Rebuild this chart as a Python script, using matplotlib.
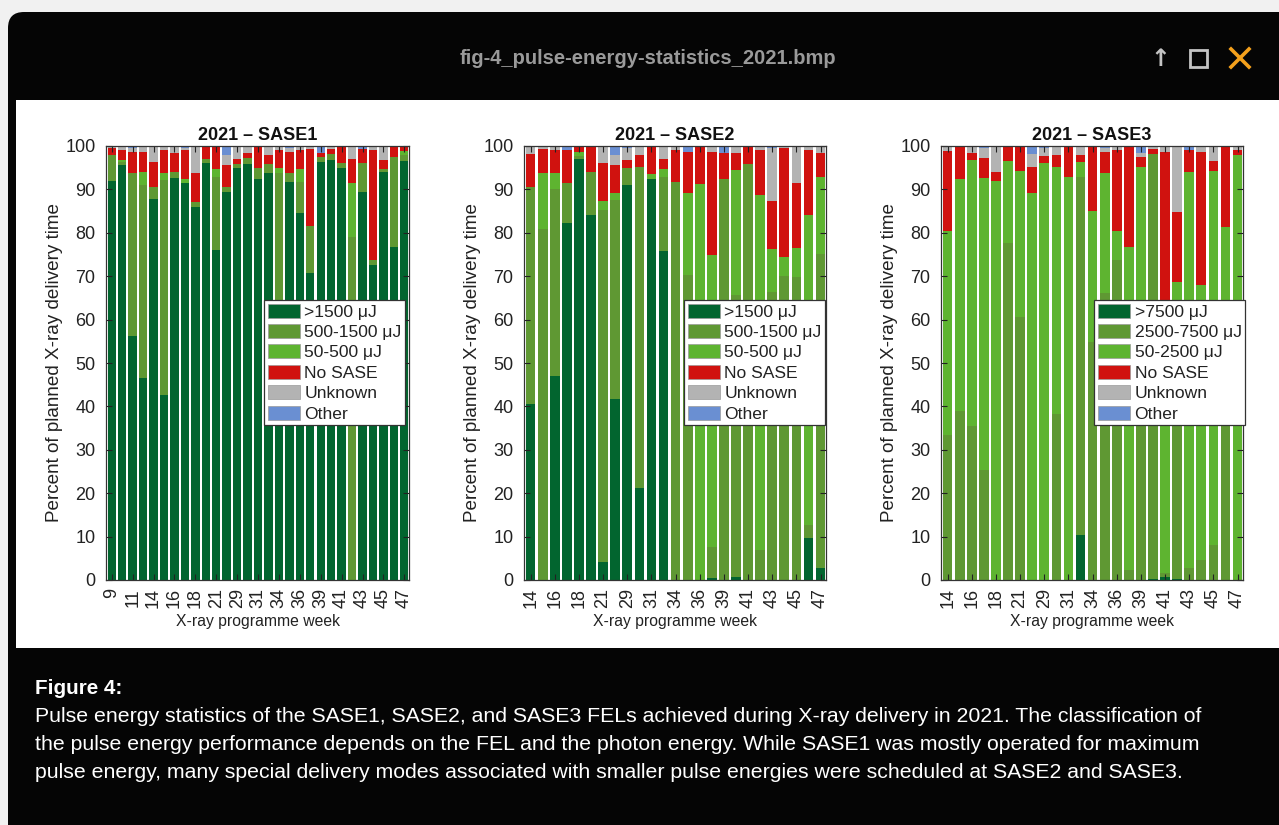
import numpy as np
import matplotlib
matplotlib.use("Agg")
import matplotlib.pyplot as plt
from matplotlib.patches import FancyBboxPatch, Rectangle, Patch
from matplotlib.lines import Line2D

plt.rcParams['font.family'] = ['Liberation Sans', 'DejaVu Sans']

# ---------------- data ----------------
s1_weeks = [9, 10, 11, 13, 14, 15, 16, 17, 18, 20, 21, 22, 29, 30, 31, 33, 34, 35, 36, 38,
            39, 40, 41, 42, 43, 44, 45, 46, 47]
s1_dark = [92.0, 95.6, 56.3, 46.6, 87.8, 42.6, 92.7, 91.4, 86.0, 96.1, 76.0, 89.5, 94.9, 95.8, 92.3,
           93.8, 60.0, 91.8, 84.6, 70.7, 96.3, 96.7, 94.9, 0.0, 89.5, 72.6, 93.9, 76.8, 96.6]
s1_olive = [5.9, 0.8, 37.4, 44.4, 2.8, 49.6, 1.3, 0.0, 1.2, 1.0, 16.9, 1.0, 1.0, 1.5, 2.6,
            2.1, 33.7, 1.9, 7.2, 10.9, 1.1, 1.5, 1.1, 79.1, 6.5, 1.1, 0.7, 20.6, 1.3]
s1_light = [0.0, 0.4, 0.0, 3.1, 0.0, 1.5, 0.0, 1.1, 0.0, 0.0, 1.7, 0.0, 0.0, 0.0, 0.0,
            0.0, 1.2, 0.0, 2.8, 0.0, 0.0, 0.0, 0.0, 12.3, 0.0, 0.0, 0.0, 0.0, 1.0]
s1_nosase = [1.6, 2.2, 5.0, 4.6, 5.8, 5.3, 4.3, 6.5, 6.5, 2.9, 5.4, 5.1, 1.2, 1.0, 5.1,
             2.0, 4.2, 5.0, 4.4, 17.8, 0.9, 1.2, 4.0, 5.7, 3.4, 25.3, 2.1, 2.4, 1.1]
s1_unknown = [0.5, 1.0, 0.8, 1.3, 3.6, 1.0, 1.7, 0.5, 6.3, 0.0, 0.0, 2.3, 2.9, 1.7, 0.0,
              2.1, 0.9, 0.8, 1.0, 0.6, 0.0, 0.6, 0.0, 2.9, 0.0, 1.0, 3.3, 0.2, 0.0]
s1_other = [0.0, 0.0, 0.5, 0.0, 0.0, 0.0, 0.0, 0.5, 0.0, 0.0, 0.0, 2.1, 0.0, 0.0, 0.0,
            0.0, 0.0, 0.5, 0.0, 0.0, 1.7, 0.0, 0.0, 0.0, 0.6, 0.0, 0.0, 0.0, 0.0]

s23_weeks = [14, 15, 16, 17, 18, 20, 21, 22, 29, 30, 31, 33, 34, 35, 36, 38, 39, 40, 41, 42,
             43, 44, 45, 46, 47]

s2_dark = [40.6, 0.0, 47.0, 82.3, 96.9, 84.1, 4.2, 41.7, 90.9, 21.1, 92.4, 75.9, 0.0,
           0.0, 0.0, 0.5, 0.0, 0.7, 0.0, 0.0, 0.0, 0.0, 0.0, 9.6, 2.7]
s2_olive = [49.9, 80.8, 43.2, 9.1, 0.8, 9.8, 81.1, 45.9, 4.0, 74.1, 0.0, 16.9, 91.8,
            70.3, 0.0, 7.2, 92.5, 65.0, 95.9, 6.9, 66.4, 70.0, 69.9, 3.1, 72.4]
s2_light = [0.0, 12.9, 3.5, 0.0, 1.0, 0.0, 2.1, 1.5, 0.0, 0.0, 1.1, 1.8, 0.0,
            18.8, 91.2, 67.2, 0.0, 28.8, 0.0, 81.8, 9.8, 4.5, 6.7, 71.4, 17.8]
s2_nosase = [7.7, 5.5, 5.3, 7.6, 1.0, 6.1, 8.7, 6.5, 1.9, 2.7, 6.5, 2.5, 7.3,
             9.6, 8.8, 23.8, 6.0, 4.0, 3.9, 10.4, 11.2, 25.0, 14.8, 15.0, 5.4]
s2_unknown = [1.8, 0.8, 1.0, 0.0, 0.0, 0.0, 3.9, 2.3, 2.7, 2.1, 0.0, 2.9, 0.9,
              0.0, 0.0, 1.3, 0.0, 1.5, 0.2, 0.9, 12.1, 0.5, 8.6, 0.9, 1.7]
s2_other = [0.0, 0.0, 0.0, 1.0, 0.3, 0.0, 0.0, 2.1, 0.5, 0.0, 0.0, 0.0, 0.0,
            1.3, 0.0, 0.0, 1.5, 0.0, 0.0, 0.0, 0.5, 0.0, 0.0, 0.0, 0.0]

s3_dark = [0.0, 0.0, 0.0, 0.0, 0.0, 0.0, 0.0, 0.0, 0.0, 0.0, 0.0, 10.4, 0.0,
           0.0, 0.0, 0.0, 0.0, 0.3, 0.6, 0.3, 0.0, 0.0, 0.0, 0.0, 0.0]
s3_olive = [33.4, 39.0, 35.5, 25.4, 0.0, 77.7, 60.7, 0.0, 0.0, 38.2, 0.0, 82.5, 54.9,
            66.1, 73.7, 2.3, 45.0, 97.9, 0.9, 49.7, 2.8, 4.6, 8.1, 55.0, 0.0]
s3_light = [46.9, 53.3, 61.3, 67.3, 92.0, 18.9, 33.6, 89.1, 96.0, 57.0, 92.9, 3.5, 30.2,
            27.6, 6.8, 74.4, 50.1, 0.0, 53.5, 18.7, 91.3, 63.4, 86.2, 26.3, 97.9]
s3_nosase = [18.6, 7.4, 1.7, 4.5, 1.9, 3.1, 5.7, 6.1, 1.7, 2.7, 7.1, 1.5, 14.9,
             5.0, 18.6, 23.3, 2.3, 1.0, 43.7, 16.2, 5.0, 30.7, 2.3, 18.4, 1.2]
s3_unknown = [1.1, 0.0, 1.5, 2.3, 6.1, 0.3, 0.0, 3.0, 1.8, 2.1, 0.0, 2.1, 0.0,
              0.8, 0.9, 0.0, 1.1, 0.8, 1.3, 15.1, 0.0, 1.3, 3.4, 0.3, 0.9]
s3_other = [0.0, 0.3, 0.0, 0.5, 0.0, 0.0, 0.0, 1.8, 0.5, 0.0, 0.0, 0.0, 0.0,
            0.5, 0.0, 0.0, 1.5, 0.0, 0.0, 0.0, 0.9, 0.0, 0.0, 0.0, 0.0]

titles = ["2021 \u2013 SASE1", "2021 \u2013 SASE2", "2021 \u2013 SASE3"]
labels_12 = [">1500 \u03bcJ", "500-1500 \u03bcJ", "50-500 \u03bcJ", "No SASE", "Unknown", "Other"]
labels_3 = [">7500 \u03bcJ", "2500-7500 \u03bcJ", "50-2500 \u03bcJ", "No SASE", "Unknown", "Other"]
colors = ["#02652f", "#5f9833", "#5eb430", "#d0120f", "#b3b3b3", "#6a8fd2"]

ylabel = "Percent of planned X-ray delivery time"
xlabel = "X-ray programme week"

caption_head = "Figure 4:"
caption_lines = [
    "Pulse energy statistics of the SASE1, SASE2, and SASE3 FELs achieved during X-ray delivery in 2021. The classification of",
    "the pulse energy performance depends on the FEL and the photon energy. While SASE1 was mostly operated for maximum",
    "pulse energy, many special delivery modes associated with smaller pulse energies were scheduled at SASE2 and SASE3.",
]
window_title = "fig-4_pulse-energy-statistics_2021.bmp"

# ---------------- figure ----------------
W, H = 1279, 825
fig = plt.figure(figsize=(W / 100, H / 100), dpi=100)
fig.patch.set_facecolor("#f1f1f1")

bg = fig.add_axes([0, 0, 1, 1], zorder=-10)
bg.set_xlim(0, W)
bg.set_ylim(H, 0)
bg.axis("off")
bg.add_patch(FancyBboxPatch((8, 12), 1400, 1000, boxstyle="round,pad=0,rounding_size=16",
                            facecolor="#050505", edgecolor="none"))
bg.add_patch(Rectangle((16, 100), 1300, 548, facecolor="white", edgecolor="none"))
bg.text(648, 58, window_title, color="#9a9a9a", fontsize=14.5, fontweight="bold",
        ha="center", va="center")
bg.text(1160, 59, "\u2191", color="#c4c4c4", fontsize=17, fontweight="bold",
        ha="center", va="center", family="DejaVu Sans")
bg.add_patch(Rectangle((1190, 50), 17, 17, facecolor="none", edgecolor="#c4c4c4", lw=2))
bg.add_line(Line2D([1231, 1249], [49, 67], color="#f5a11c", lw=2.6))
bg.add_line(Line2D([1231, 1249], [67, 49], color="#f5a11c", lw=2.6))

bg.text(35, 688, caption_head, color="white", fontsize=14.9, fontweight="bold",
        ha="left", va="center")
for i, line in enumerate(caption_lines):
    bg.text(35, 716 + 28 * i, line, color="white", fontsize=15.3, ha="left", va="center")

panels = [
    (s1_weeks, [s1_dark, s1_olive, s1_light, s1_nosase, s1_unknown, s1_other], labels_12, 106, 409, 0.987),
    (s23_weeks, [s2_dark, s2_olive, s2_light, s2_nosase, s2_unknown, s2_other], labels_12, 524, 826, 0.997),
    (s23_weeks, [s3_dark, s3_olive, s3_light, s3_nosase, s3_unknown, s3_other], labels_3, 941, 1243, 1.007),
]

top_px, bot_px = 146, 580
for k, (weeks, series, labs, lpx, rpx, lg_right) in enumerate(panels):
    ax = fig.add_axes([lpx / W, (H - bot_px) / H, (rpx - lpx) / W, (bot_px - top_px) / H])
    x = np.arange(len(weeks))
    bottom = np.zeros(len(weeks))
    handles = []
    for vals, col, lab in zip(series, colors, labs):
        v = np.asarray(vals, dtype=float)
        ax.bar(x, v, bottom=bottom, width=0.8, color=col, edgecolor="none", linewidth=0)
        bottom = bottom + v
        handles.append(Patch(facecolor=col, edgecolor="#9a9a9a", linewidth=0.5, label=lab))
    ax.set_xlim(-0.55, len(weeks) - 0.55)
    ax.set_ylim(0, 100)
    ax.set_yticks(np.arange(0, 101, 10))
    ax.set_xticks(x[::2])
    ax.set_xticklabels([str(w) for w in weeks[::2]], rotation=90)
    ax.tick_params(axis="both", direction="in", length=4, width=0.8, labelsize=13,
                   top=True, right=True, colors="#222222", labelcolor="#222222")
    ax.tick_params(axis="y", pad=7.5)
    ax.tick_params(axis="x", pad=6)
    for sp in ax.spines.values():
        sp.set_color("#333333")
        sp.set_linewidth(0.9)
    ax.set_title(titles[k], fontsize=13, fontweight="bold", pad=4, color="#111111")
    ax.set_ylabel(ylabel, fontsize=13.6, color="#222222", labelpad=2)
    ax.set_xlabel(xlabel, fontsize=11.3, color="#222222", labelpad=4)
    leg = ax.legend(handles=handles, loc="upper right", bbox_to_anchor=(lg_right, 0.645),
                    fontsize=12.6, frameon=True, fancybox=False, framealpha=1,
                    edgecolor="#333333", borderpad=0.2, labelspacing=0.25,
                    handlelength=1.85, handleheight=0.85, handletextpad=0.25, borderaxespad=0)
    leg.get_frame().set_linewidth(0.9)
    for t in leg.get_texts():
        t.set_color("#222222")

fig.savefig("out.png", dpi=100)
